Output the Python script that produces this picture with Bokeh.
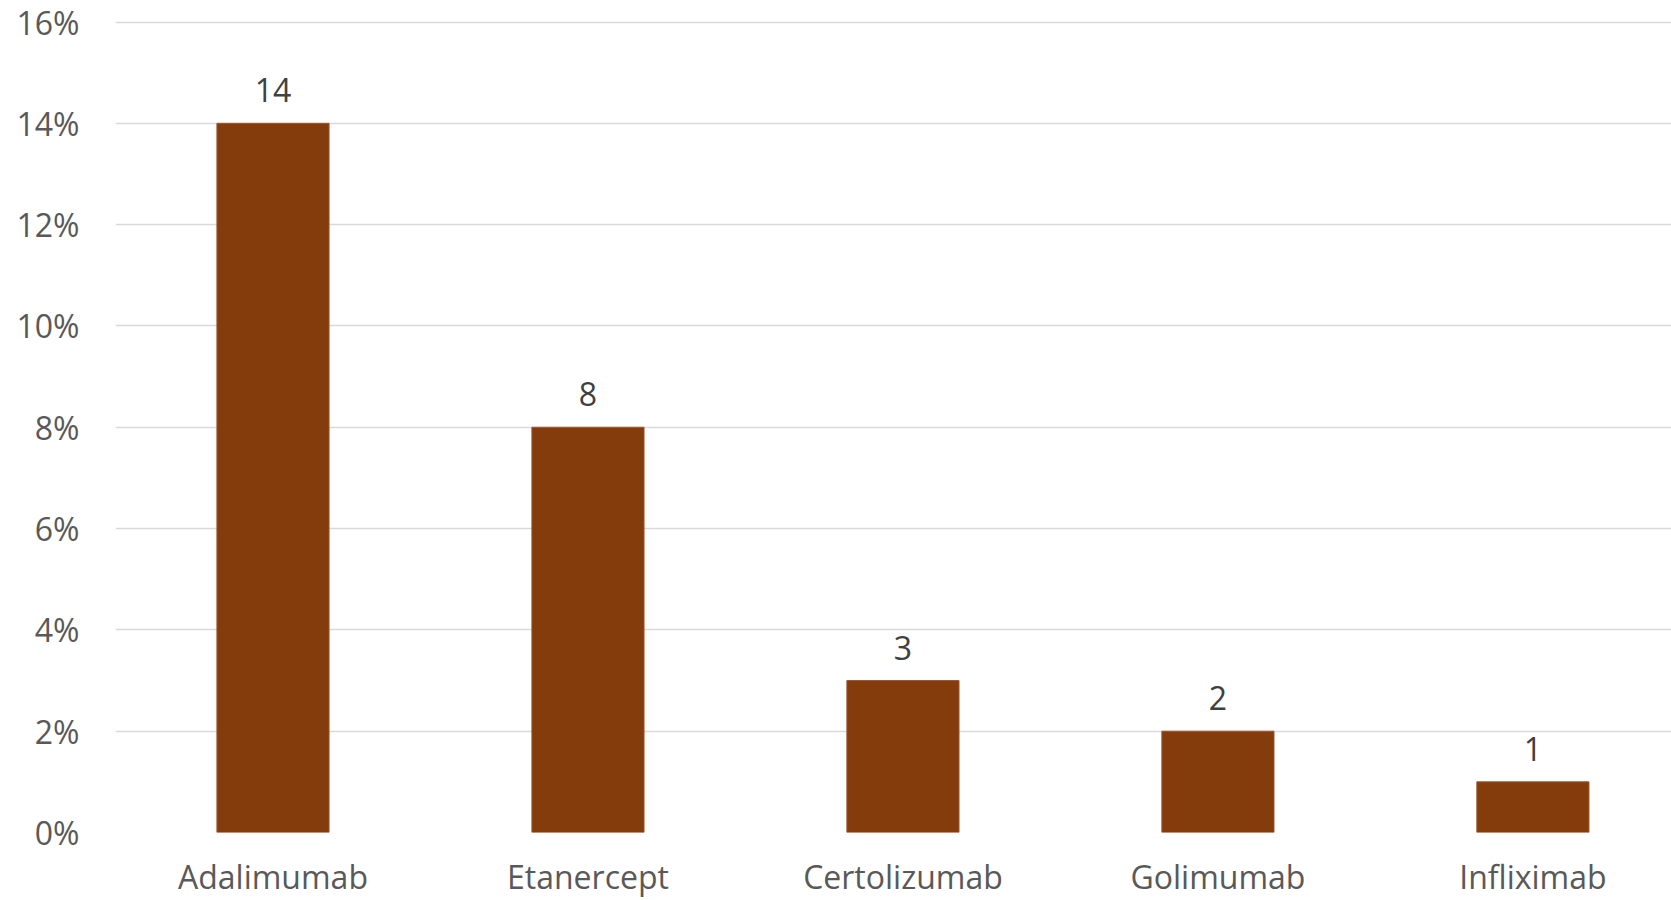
from bokeh.plotting import figure
from bokeh.models import (ColumnDataSource, Range1d, FixedTicker, NumeralTickFormatter,
                          LabelSet)
from bokeh.core.properties import value
from bokeh.embed import file_html
from bokeh.resources import INLINE

# ---- data ----
drugs = ["Adalimumab", "Etanercept", "Certolizumab", "Golimumab", "Infliximab"]
counts = [14, 8, 3, 2, 1]
percent = [0.14, 0.08, 0.03, 0.02, 0.01]
y_ticks = [0.0, 0.02, 0.04, 0.06, 0.08, 0.10, 0.12, 0.14, 0.16]

positions = list(range(len(drugs)))
src = ColumnDataSource(dict(x=positions, pct=percent,
                            lbl=[str(c) for c in counts], name=drugs))

FONT = "Open Sans"
p = figure(width=1671, height=900, output_backend="svg", toolbar_location=None,
           x_range=Range1d(-0.5, 4.44), y_range=Range1d(0, 0.1605),
           min_border_left=115, min_border_right=0, min_border_top=19,
           min_border_bottom=68, outline_line_color=None,
           background_fill_color="white", border_fill_color="white")

p.vbar(x="x", top="pct", width=0.356, source=src,
       fill_color="#843C0C", line_color="#9A5530", line_width=1)

labels = LabelSet(x="x", y="pct", text="lbl", source=src, y_offset=21,
                  text_align="center", text_baseline="alphabetic",
                  text_font=value(FONT), text_font_size="32px",
                  text_color="#404040")
p.add_layout(labels)

# y axis
p.yaxis.ticker = FixedTicker(ticks=y_ticks)
p.yaxis.formatter = NumeralTickFormatter(format="0%")
p.yaxis.axis_line_color = None
p.yaxis.major_tick_line_color = None
p.yaxis.minor_tick_line_color = None
p.yaxis.major_label_standoff = 30
p.yaxis.major_label_text_font = FONT
p.yaxis.major_label_text_font_size = "32px"
p.yaxis.major_label_text_color = "#595959"

# x axis
p.xaxis.ticker = FixedTicker(ticks=positions)
p.xaxis.major_label_overrides = {i: d for i, d in zip(positions, drugs)}
p.xaxis.axis_line_color = None
p.xaxis.major_tick_line_color = None
p.xaxis.minor_tick_line_color = None
p.xaxis.major_label_standoff = 16
p.xaxis.major_label_text_font = FONT
p.xaxis.major_label_text_font_size = "32px"
p.xaxis.major_label_text_color = "#595959"

p.xgrid.grid_line_color = None
p.ygrid.grid_line_color = "#D9D9D9"
p.ygrid.grid_line_width = 1.5

open("out.html", "w").write(file_html(p, INLINE))
